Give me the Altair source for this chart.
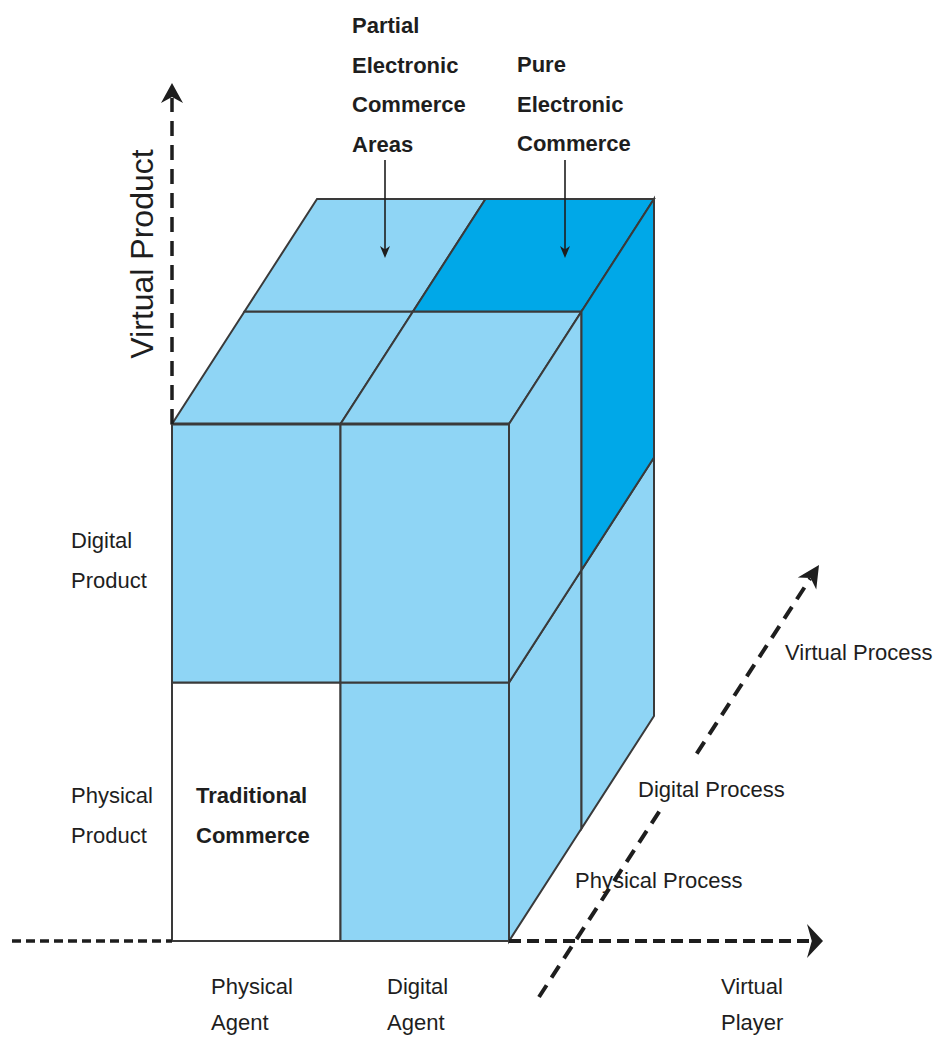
import math
import altair as alt
import pandas as pd

# ---------------- data (the cube's three dimensions) ----------------
agents = ["Physical Agent", "Digital Agent"]
products = ["Physical Product", "Digital Product"]
processes = ["Physical Process", "Digital Process"]
# shading per cell: all physical -> traditional, all digital -> pure, else partial
shade_names = ["Traditional Commerce", "Partial Electronic Commerce", "Pure Electronic Commerce"]
shade_colors = ["#ffffff", "#8fd5f5", "#00a8e8"]

top_labels = [["Partial", "Electronic", "Commerce", "Areas"], ["Pure", "Electronic", "Commerce"]]
cell_label = ["Traditional", "Commerce"]
product_labels = [["Physical", "Product"], ["Digital", "Product"]]
agent_labels = [["Physical", "Agent"], ["Digital", "Agent"], ["Virtual", "Player"]]
process_labels = ["Physical Process", "Digital Process", "Virtual Process"]
axis_title_product = "Virtual Product"

# ---------------- layout (oblique projection of the cube) ----------------
OX, OY = 172, 941
SA = 168.5          # agent step (x)
SP = 258.5          # product step (up)
DX, DY = 72.5, -112.5  # process step (depth)


def P(a, l, p):
    return (OX + a * SA + p * DX, OY - l * SP + p * DY)


def shade(a, l, p):
    if a == 0 and l == 0 and p == 0:
        return 0
    if a == 1 and l == 1 and p == 1:
        return 2
    return 1


front_rows, top_rows, right_rows = [], [], []
for a in range(2):
    for l in range(2):
        x0, y0 = P(a, l, 0)
        x1, y1 = P(a + 1, l + 1, 0)
        front_rows.append(dict(x=x0, x2=x1, y=y0, y2=y1,
                               fill=shade_colors[shade(a, l, 0)],
                               cell=f"{agents[a]} / {products[l]} / {processes[0]}"))
for a in range(2):
    for p in range(2):
        cid = f"top-{a}-{p}"
        for pp in (p, p + 1):
            xa, ya = P(a, 2, pp)
            xb, _ = P(a + 1, 2, pp)
            top_rows.append(dict(id=cid, y=ya, x=xa, x2=xb,
                                 fill=shade_colors[shade(a, 1, p)]))
for p in range(2):
    for l in range(2):
        cid = f"right-{p}-{l}"
        for pp in (p, p + 1):
            xa, ylo = P(2, l, pp)
            _, yhi = P(2, l + 1, pp)
            right_rows.append(dict(id=cid, x=xa, y=yhi, y2=ylo,
                                   fill=shade_colors[shade(1, l, p)]))

front_df = pd.DataFrame(front_rows)
top_df = pd.DataFrame(top_rows)
right_df = pd.DataFrame(right_rows)

W, H = 930, 1028
XS = alt.Scale(domain=[8, 8 + W], nice=False, zero=False)
YS = alt.Scale(domain=[8 + H, 8], nice=False, zero=False)
EDGE = "#3a3a3a"
INK = "#1e1e1e"
FONT = "Liberation Sans"

front = alt.Chart(front_df).mark_rect(stroke=EDGE, strokeWidth=2).encode(
    x=alt.X("x:Q", scale=XS, axis=None), x2="x2:Q",
    y=alt.Y("y:Q", scale=YS, axis=None), y2="y2:Q",
    color=alt.Color("fill:N", scale=None),
)
top = alt.Chart(top_df).mark_area(orient="horizontal", stroke=EDGE, strokeWidth=2, opacity=1).encode(
    y=alt.Y("y:Q", scale=YS, axis=None),
    x=alt.X("x:Q", scale=XS, axis=None, stack=None), x2="x2:Q",
    detail="id:N",
    color=alt.Color("fill:N", scale=None),
)
right = alt.Chart(right_df).mark_area(orient="vertical", stroke=EDGE, strokeWidth=2, opacity=1).encode(
    x=alt.X("x:Q", scale=XS, axis=None),
    y=alt.Y("y:Q", scale=YS, axis=None, stack=None), y2="y2:Q",
    detail="id:N",
    color=alt.Color("fill:N", scale=None),
)
top_edge = alt.Chart(pd.DataFrame([dict(x=P(0, 2, 0)[0], x2=P(2, 2, 0)[0], y=P(0, 2, 0)[1])])).mark_rule(
    color=EDGE, strokeWidth=3).encode(
    x=alt.X("x:Q", scale=XS, axis=None), x2="x2:Q", y=alt.Y("y:Q", scale=YS, axis=None))


def seg_chart(rows, dash, width, color=INK):
    df = pd.DataFrame(rows, columns=["x", "y", "x2", "y2"])
    kw = dict(color=color, strokeWidth=width)
    if dash:
        kw["strokeDash"] = dash
    return alt.Chart(df).mark_rule(**kw).encode(
        x=alt.X("x:Q", scale=XS, axis=None), x2="x2:Q",
        y=alt.Y("y:Q", scale=YS, axis=None), y2="y2:Q")


# dashed axes
diag_tip = (819, 565)
diag_start = (539, 997)
du = (diag_tip[0] - diag_start[0], diag_tip[1] - diag_start[1])
dl = math.hypot(*du)
u = (du[0] / dl, du[1] / dl)


def along(t):
    return (diag_start[0] + u[0] * t, diag_start[1] + u[1] * t)


gap_a, gap_b = 229, 290
v_axis = seg_chart([[OX, P(0, 2, 0)[1], OX, 98]], [15, 9], 3.5)
h_left = seg_chart([[12, OY, OX, OY]], [9, 5], 3.5)
h_right = seg_chart([[P(2, 0, 0)[0], OY, 810, OY]], [12, 6], 4)
d_axis = seg_chart([[*along(0), *along(gap_a)], [*along(gap_b), *along(dl - 16)]], [14, 9], 4)
pointer_lines = seg_chart([[385, 160, 385, 250], [565, 160, 565, 250]], None, 1.6)


def arrow_path(ux, uy, L, Wd, R=10.0):
    nx, ny = -uy, ux
    pts = [(0, 0),
           (-L * ux + Wd * nx, -L * uy + Wd * ny),
           (-0.7 * L * ux, -0.7 * L * uy),
           (-L * ux - Wd * nx, -L * uy - Wd * ny)]
    return "M" + "L".join(f"{px / R:.3f},{py / R:.3f}" for px, py in pts) + "Z"


heads = pd.DataFrame([
    dict(x=OX, y=83, shape=arrow_path(0, -1, 20, 11)),
    dict(x=823, y=OY, shape=arrow_path(1, 0, 16, 17)),
    dict(x=diag_tip[0], y=diag_tip[1], shape=arrow_path(u[0], u[1], 22, 11)),
    dict(x=385, y=258, shape=arrow_path(0, 1, 12, 5)),
    dict(x=565, y=258, shape=arrow_path(0, 1, 12, 5)),
])
arrowheads = alt.Chart(heads).mark_point(filled=True, color=INK, opacity=1, size=400, strokeWidth=0).encode(
    x=alt.X("x:Q", scale=XS, axis=None), y=alt.Y("y:Q", scale=YS, axis=None),
    shape=alt.Shape("shape:N", scale=None),
)

# ---------------- text ----------------
bold_rows, reg_rows = [], []
LH = 39.5
for i, t in enumerate(top_labels[0]):
    bold_rows.append(dict(x=352, y=33 + i * LH, t=t))
for i, t in enumerate(top_labels[1]):
    bold_rows.append(dict(x=517, y=72 + i * LH, t=t))
for i, t in enumerate(cell_label):
    bold_rows.append(dict(x=196, y=803 + i * LH, t=t))
for i, t in enumerate(product_labels[1]):
    reg_rows.append(dict(x=71, y=548 + i * LH, t=t))
for i, t in enumerate(product_labels[0]):
    reg_rows.append(dict(x=71, y=803 + i * LH, t=t))
for ax_x, lab in zip([211, 387, 721], agent_labels):
    for i, t in enumerate(lab):
        reg_rows.append(dict(x=ax_x, y=994 + i * 36, t=t))
for (px, py), t in zip([(575, 888), (638, 797), (785, 660)], process_labels):
    reg_rows.append(dict(x=px, y=py, t=t))


def text_chart(rows, weight, size):
    return alt.Chart(pd.DataFrame(rows)).mark_text(
        align="left", baseline="alphabetic", font=FONT, fontSize=size, fontWeight=weight, color=INK
    ).encode(x=alt.X("x:Q", scale=XS, axis=None), y=alt.Y("y:Q", scale=YS, axis=None), text="t:N")


bold_text = text_chart(bold_rows, "bold", 22)
reg_text = text_chart(reg_rows, "normal", 22)
vtitle = alt.Chart(pd.DataFrame([dict(x=153, y=254, t=axis_title_product)])).mark_text(
    align="center", baseline="alphabetic", angle=270, font=FONT, fontSize=32, color=INK
).encode(x=alt.X("x:Q", scale=XS, axis=None), y=alt.Y("y:Q", scale=YS, axis=None), text="t:N")

chart = alt.layer(
    front, top, right, top_edge,
    v_axis, h_left, h_right, d_axis, pointer_lines, arrowheads,
    bold_text, reg_text, vtitle,
).properties(
    width=W, height=H, padding=0, background="#ffffff",
    autosize=alt.AutoSizeParams(type="none"),
).configure_view(strokeWidth=0)

chart.save("out.html", embed_options={"renderer": "svg", "actions": False})
